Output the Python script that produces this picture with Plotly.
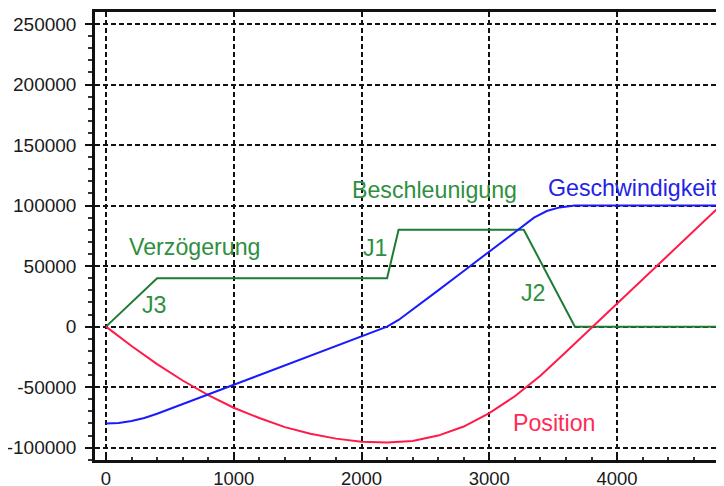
import plotly.graph_objects as go

# Time axis (ms) and series values
t_acc = [0, 400, 2200, 2290, 3270, 3670, 4840]
acc = [0, 40000, 40000, 80000, 80000, 0, 0]

t_vel = [0, 100, 200, 300, 400, 600, 800, 1000, 1200, 1400, 1600, 1800, 2000,
         2200, 2290, 2400, 2600, 2800, 3000, 3200, 3270, 3350, 3450, 3550, 3670, 4840]
vel = [-80000, -79500, -78000, -75500, -72000, -64000, -56000, -48000, -40000,
       -32000, -24000, -16000, -8000, 0, 5500, 14000, 30000, 46000, 62000, 78000,
       84000, 90000, 95500, 98500, 100000, 100000]

t_pos = [0, 200, 400, 600, 800, 1000, 1200, 1400, 1600, 1800, 2000, 2200, 2400,
         2600, 2800, 3000, 3200, 3400, 3600, 3800, 4000, 4200, 4400, 4600, 4840]
pos = [0, -16000, -31000, -44500, -56500, -67000, -75500, -83000, -88500, -92500,
       -95000, -95700, -94500, -90000, -82500, -71500, -57500, -40500, -21000,
       -1000, 19000, 39000, 59000, 79000, 103000]

y_ticks = [-100000, -50000, 0, 50000, 100000, 150000, 200000, 250000]
x_ticks = [0, 1000, 2000, 3000, 4000]

labels = [
    ("Verzögerung", 700, 65400, "#2f8f3f"),
    ("J3", 376, 17500, "#2f8f3f"),
    ("Beschleunigung", 2568, 112500, "#2f8f3f"),
    ("J1", 2113, 64800, "#2f8f3f"),
    ("J2", 3345, 28000, "#2f8f3f"),
    ("Geschwindigkeit", 4121, 114600, "#2323e8"),
    ("Position", 3510, -79800, "#ff2a55"),
]

fig = go.Figure()
fig.add_trace(go.Scatter(x=t_acc, y=acc, mode="lines",
                         line=dict(color="#1e7b34", width=2), showlegend=False))
fig.add_trace(go.Scatter(x=t_pos, y=pos, mode="lines",
                         line=dict(color="#ff1a4a", width=2), showlegend=False))
fig.add_trace(go.Scatter(x=t_vel, y=vel, mode="lines",
                         line=dict(color="#1a1aff", width=2), showlegend=False))

for text, x, y, color in labels:
    fig.add_annotation(x=x, y=y, xref="x", yref="y", text=text, showarrow=False,
                       font=dict(family="Liberation Sans, Arial, sans-serif",
                                 size=23.2, color=color),
                       xanchor="center", yanchor="middle")

# the page body adds an 8px offset, so the figure is sized/margined to compensate
fig.update_layout(
    width=716, height=478,
    margin=dict(l=87, r=0, t=4, b=26),
    paper_bgcolor="white", plot_bgcolor="white",
    font=dict(family="Liberation Sans, Arial, sans-serif", size=19, color="#1a1a1a"),
)
fig.update_xaxes(
    range=[-86, 4837], tickvals=x_ticks, ticktext=[str(v) for v in x_ticks],
    automargin=False,
    showgrid=True, gridcolor="#111111", gridwidth=1.6, griddash="5px,3px",
    zeroline=False, showline=True, linecolor="#111111", linewidth=2.5, mirror=True,
    ticks="inside", ticklen=4, tickwidth=1.5, tickcolor="#111111",
    minor=dict(dtick=200, ticks="inside", ticklen=3, tickcolor="#333333", showgrid=False),
    ticklabelstandoff=0, tickfont=dict(size=18.5),
)
fig.update_yaxes(
    range=[-110160, 259912], tickvals=y_ticks, ticktext=[str(v) for v in y_ticks],
    automargin=False,
    showgrid=True, gridcolor="#111111", gridwidth=1.6, griddash="5px,3px",
    zeroline=False, showline=True, linecolor="#111111", linewidth=2.5, mirror=False,
    ticks="outside", ticklen=7, tickwidth=1.5, tickcolor="#111111",
    minor=dict(dtick=10000, ticks="outside", ticklen=4, tickcolor="#333333", showgrid=False),
    ticklabelstandoff=5,
)

fig.write_html("out.html")
